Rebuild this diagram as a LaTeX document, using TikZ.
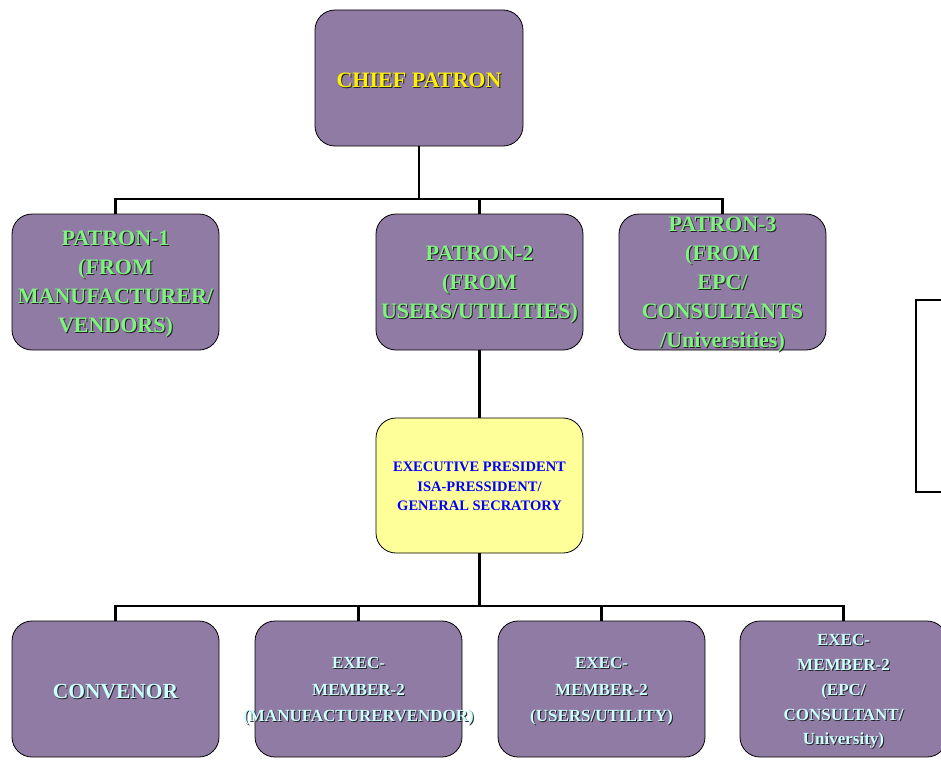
\documentclass[tikz,border=0pt]{standalone}
\usepackage{fontspec}
\setmainfont{Liberation Serif}

\definecolor{boxpurple}{RGB}{143,123,164}
\definecolor{patgreen}{RGB}{128,242,128}
\definecolor{execyellow}{RGB}{255,255,153}
\definecolor{memcyan}{RGB}{204,255,255}
\definecolor{shade}{RGB}{35,35,35}
% text with a small dark shadow
\newcommand{\sh}[1]{\leavevmode\rlap{\kern1pt\raisebox{-1pt}{\color{shade}#1}}#1}

\tikzset{
  orgbox/.style={draw=black, line width=0.8pt, rounded corners=20pt, fill=boxpurple,
    minimum width=207pt, minimum height=136pt},
  boxtext/.style={align=center, inner sep=0pt, yshift=-3pt},
  patron/.style={boxtext, text=patgreen, font=\fontsize{22}{29}\selectfont\bfseries},
  member/.style={boxtext, text=memcyan, font=\fontsize{17}{26.5}\selectfont\bfseries},
  wire/.style={line width=2.6pt},
}

\begin{document}
\begin{tikzpicture}[x=1pt,y=-1pt]
        \useasboundingbox (0,0) rectangle (941,760);
        % top level
        \node[orgbox, minimum width=208pt] (chief) at (419,78) {};
        \node[patron, text=yellow] (chieft) at (chief) {\sh{CHIEF PATRON}};
        % patrons
        \node[orgbox] (pat1) at (115.5,282) {};
        \node[orgbox] (pat2) at (479.5,282) {};
        \node[orgbox] (pat3) at (722.5,282) {};
        \node[patron] (pat1t) at (pat1) {\sh{PATRON-1}\\\sh{(FROM}\\\sh{MANUFACTURER/}\\\sh{VENDORS)}};
        \node[patron] (pat2t) at (pat2) {\sh{PATRON-2}\\\sh{(FROM}\\\sh{USERS/UTILITIES)}};
        \node[patron] (pat3t) at (pat3) {\sh{PATRON-3}\\\sh{(FROM}\\\sh{EPC/}\\\sh{CONSULTANTS}\\\sh{/Universities)}};
        % executive
        \node[orgbox, minimum height=135pt, fill=execyellow] (exec) at (479.5,485.5) {};
        \node[boxtext, yshift=2pt, text=blue, font=\fontsize{14.5}{19.5}\selectfont\bfseries]
          (exect) at (exec) {EXECUTIVE PRESIDENT\\ISA-PRESSIDENT/\\GENERAL SECRATORY};
        % members
        \node[orgbox] (conv) at (115.5,689) {};
        \node[orgbox] (mem1) at (358.5,689) {};
        \node[orgbox] (mem2) at (601.5,689) {};
        \node[orgbox] (mem3) at (843.5,689) {};
        \node[member, font=\fontsize{21.5}{29}\selectfont\bfseries] (convt) at (conv) {\sh{CONVENOR}};
        \node[member] (mem1t) at (mem1) {\sh{EXEC-}\\\sh{MEMBER-2}\\\makebox[0pt]{\sh{(MANUFACTURERVENDOR)}}};
        \node[member] (mem2t) at (mem2) {\sh{EXEC-}\\\sh{MEMBER-2}\\\sh{(USERS/UTILITY)}};
        \node[member, font=\fontsize{17}{24.75}\selectfont\bfseries] (mem3t) at (mem3) {\sh{EXEC-}\\\sh{MEMBER-2}\\\sh{(EPC/}\\\sh{CONSULTANT/}\\\sh{University)}};

        % connectors
        \coordinate (topbus) at (419,199);
        \coordinate (lowbus) at (479.5,606);
        \draw[wire] (chief.south) -- (topbus);
        \draw[wire] (pat1.north) |- (topbus) -| (pat3.north);
        \draw[wire] (pat2.north) -- (pat2.north |- topbus);
        \draw[wire] (pat2.south) -- (exec.north);
        \draw[wire] (exec.south) -- (lowbus);
        \draw[wire] (conv.north) |- (lowbus) -| (mem3.north);
        \draw[wire] (mem1.north) -- (mem1.north |- lowbus);
        \draw[wire] (mem2.north) -- (mem2.north |- lowbus);

        % box cut off at the right edge
        \draw[line width=1.6pt] (916,300) rectangle (970,492);
      \end{tikzpicture}
\end{document}
